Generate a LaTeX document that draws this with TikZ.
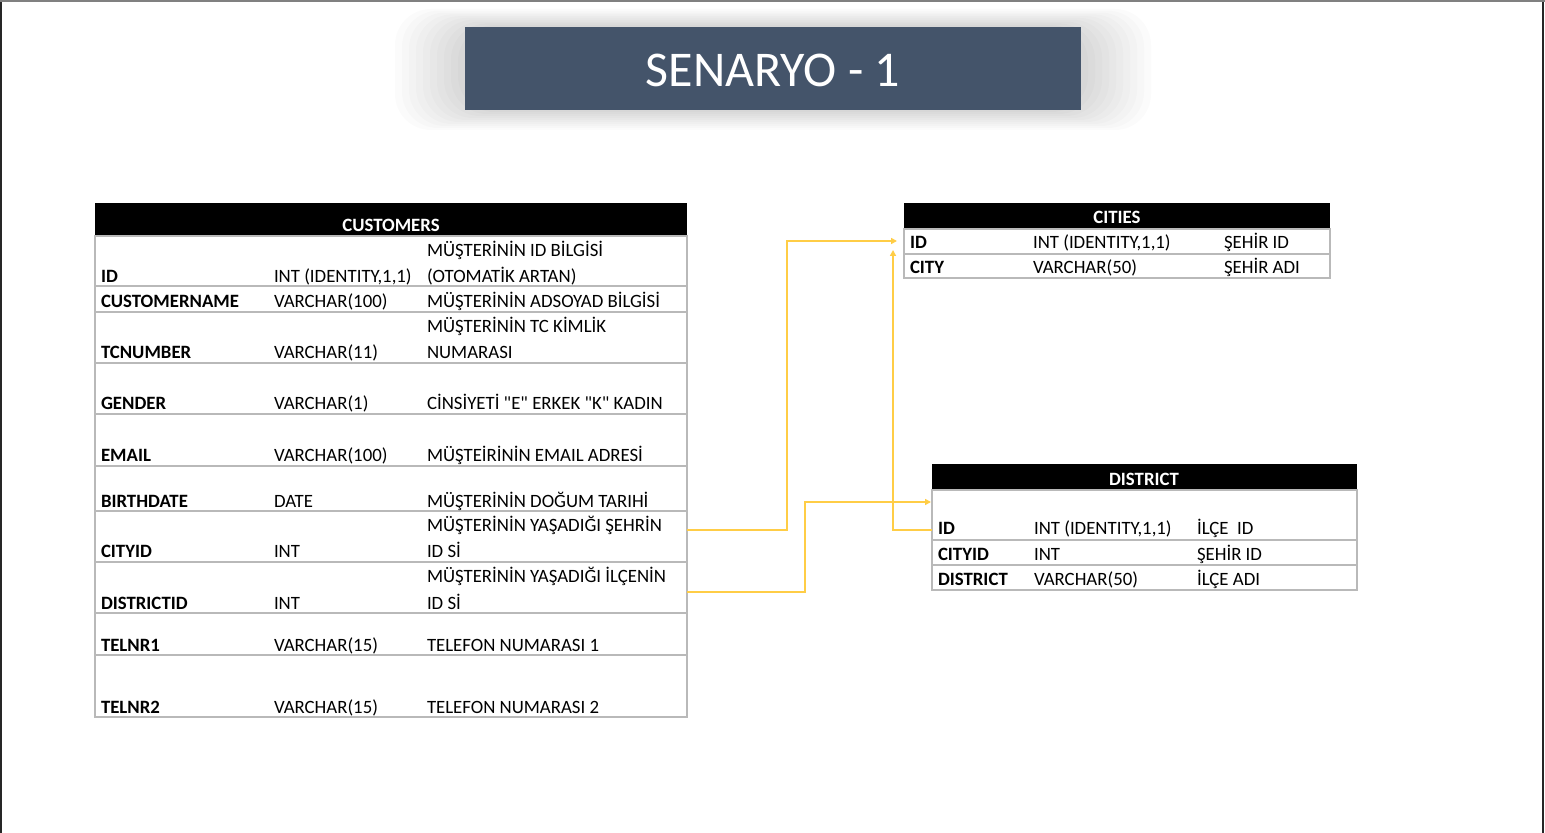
\documentclass[tikz,border=0pt]{standalone}
\usepackage{fontspec}
\setmainfont{Carlito}
\usetikzlibrary{arrows.meta,positioning}
\definecolor{titleblue}{RGB}{68,84,106}
\definecolor{linkyellow}{RGB}{255,205,70}
\definecolor{rulegray}{RGB}{185,185,185}

\begin{document}
\begin{tikzpicture}[x=0.5pt, y=-0.5pt,
  every node/.style = {inner sep=0pt, outer sep=0pt},
  cell/.style = {anchor=base west, font=\fontsize{9.4}{11}\selectfont},
  key/.style = {cell, font=\fontsize{9.4}{11}\selectfont\bfseries},
  head/.style = {anchor=base, text=white, font=\fontsize{9.4}{11}\selectfont\bfseries},
  rule/.style = {draw=rulegray, line width=0.6pt},
  link/.style = {draw=linkyellow, line width=0.8pt, -{Triangle[length=3pt,width=3pt]}}]
  \useasboundingbox (0,0) rectangle (1545,833);
  \fill[white] (0,0) rectangle (1545,833);
  \draw[black!85, line width=1.2pt] (1,0) -- (1,833) (1543,0) -- (1543,833);
  \draw[black!50, line width=0.8pt] (0,1) -- (1545,1);

  % title with soft shadow
  \foreach \i in {1,...,10}
    \fill[black, opacity=0.015, rounded corners=18] ({465-7*\i},{27-1.8*\i}) rectangle ({1081+7*\i},{110+2*\i});
  \fill[titleblue] (465,27) rectangle (1081,110);
  \node[text=white, font=\fontsize{25}{30}\selectfont] (title) at (773,70) {SENARYO - 1};

  % CUSTOMERS
  \fill[black] (95,203) rectangle (687,236);
  \node[head] (customers) at (391,232) {CUSTOMERS};
  \foreach \yr in {286,312,363,414,466,511,562,613,655}
    \draw[rule] (95,\yr) -- (687,\yr);
  \draw[rule] (95,236) rectangle (687,717);
  \foreach \yb/\nm/\ty/\ds in {283/ID/{INT (IDENTITY,1,1)}/{(OTOMATİK ARTAN)},
      308/CUSTOMERNAME/VARCHAR(100)/{MÜŞTERİNİN ADSOYAD BİLGİSİ},
      359/TCNUMBER/VARCHAR(11)/NUMARASI,
      410/GENDER/VARCHAR(1)/{CİNSİYETİ \textquotedbl E\textquotedbl\ ERKEK \textquotedbl K\textquotedbl\ KADIN},
      461/EMAIL/VARCHAR(100)/{MÜŞTEİRİNİN EMAIL ADRESİ},
      507/BIRTHDATE/DATE/{MÜŞTERİNİN DOĞUM TARIHİ},
      557/CITYID/INT/{ID Sİ},
      609/DISTRICTID/INT/{ID Sİ},
      651/TELNR1/VARCHAR(15)/{TELEFON NUMARASI 1},
      713/TELNR2/VARCHAR(15)/{TELEFON NUMARASI 2}} {
    \node[key] (cu-\nm) at (101,\yb) {\nm};
    \node[cell] (cu-\nm-type) at (274,\yb) {\ty};
    \node[cell] (cu-\nm-desc) at (427,\yb) {\ds};
  }
  \foreach \yb/\nm/\ds in {257/ID/{MÜŞTERİNİN ID BİLGİSİ},
      333/TCNUMBER/{MÜŞTERİNİN TC KİMLİK},
      531/CITYID/{MÜŞTERİNİN YAŞADIĞI ŞEHRİN},
      582/DISTRICTID/{MÜŞTERİNİN YAŞADIĞI İLÇENİN}}
    \node[cell] (cu-\nm-top) at (427,\yb) {\ds};

  % CITIES
  \fill[black] (904,203) rectangle (1330,229);
  \node[head] (cities) at (1117,224) {CITIES};
  \draw[rule] (904,254) -- (1330,254);
  \draw[rule] (904,229) rectangle (1330,278);
  \foreach \yb/\nm/\ty/\ds in {249/ID/{INT (IDENTITY,1,1)}/{ŞEHİR ID},
      274/CITY/VARCHAR(50)/{ŞEHİR ADI}} {
    \node[key] (ci-\nm) at (910,\yb) {\nm};
    \node[cell] (ci-\nm-type) at (1033,\yb) {\ty};
    \node[cell] (ci-\nm-desc) at (1224,\yb) {\ds};
  }

  % DISTRICT
  \fill[black] (932,464) rectangle (1357,490);
  \node[head] (district) at (1144,485) {DISTRICT};
  \foreach \yr in {540,565}
    \draw[rule] (932,\yr) -- (1357,\yr);
  \draw[rule] (932,490) rectangle (1357,590);
  \foreach \yb/\nm/\ty/\ds in {534/ID/{INT (IDENTITY,1,1)}/{İLÇE\ \ ID},
      560/CITYID/INT/{ŞEHİR ID},
      585/DISTRICT/VARCHAR(50)/{İLÇE ADI}} {
    \node[key] (di-\nm) at (938,\yb) {\nm};
    \node[cell] (di-\nm-type) at (1034,\yb) {\ty};
    \node[cell] (di-\nm-desc) at (1197,\yb) {\ds};
  }

  % links
  \coordinate (cu-city-out) at (687,530);
  \coordinate (cu-dist-out) at (687,592);
  \coordinate (ci-id-in) at (897,241);
  \coordinate (ci-id-up) at (893,250);
  \coordinate (di-id-out) at (932,530);
  \coordinate (di-id-in) at (931,502);
  \draw[link] (cu-city-out) -- ++(100,0) |- (ci-id-in);
  \draw[link] (di-id-out) -| (ci-id-up);
  \draw[link] (cu-dist-out) -- ++(118,0) |- (di-id-in);
\end{tikzpicture}
\end{document}
